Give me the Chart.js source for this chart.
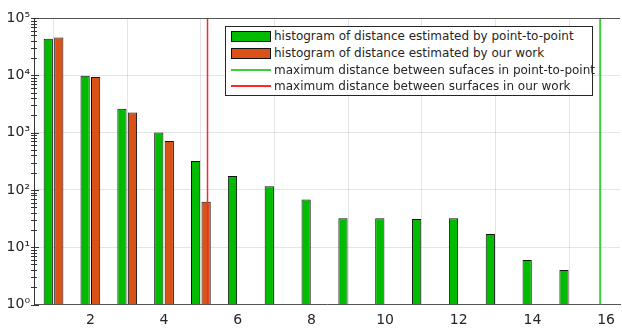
<!DOCTYPE html>
<html><head><meta charset="utf-8">
<script src="https://cdn.jsdelivr.net/npm/chart.js@4/dist/chart.umd.min.js"></script>
<style>
html,body{margin:0;padding:0;background:#fff;}
#wrap{position:relative;width:622px;height:329px;overflow:hidden;}
#legend{position:absolute;left:225px;top:26px;width:368px;height:70px;border:1px solid #262626;background:#fff;font-family:"DejaVu Sans";font-size:12px;color:#262626;box-sizing:border-box;}
.row{position:absolute;left:0;height:16.7px;display:flex;align-items:center;white-space:nowrap;}
.sw{width:40px;height:11px;margin-left:5px;margin-right:3px;box-sizing:border-box;position:relative;}
</style></head>
<body><div id="wrap"><canvas id="c"></canvas><div id="legend"></div></div>
<script>
const categories = [1,2,3,4,5,6,7,8,9,10,11,12,13,14,15];
const pointToPoint = [43500, 9820, 2600, 1000, 320, 174, 116, 68, 32, 32, 31, 32, 17, 6, 4];
const ourWork = [45800, 9320, 2240, 710, 62];
const maxDistPointToPoint = 15.84;
const maxDistOurWork = 5.18;
const xTicks = [2,4,6,8,10,12,14,16];
const yTicks = [1,10,100,1000,10000,100000];
const labels = [
  'histogram of distance estimated by point-to-point',
  'histogram of distance estimated by our work',
  'maximum distance between sufaces in point-to-point',
  'maximum distance between surfaces in our work'
];
const colors = ['rgb(0,187,0)', '#d95319', 'rgb(60,205,60)', 'rgb(255,40,40)'];
const sup = ['\u2070','\u00b9','\u00b2','\u00b3','\u2074','\u2075'];

const yMin = yTicks[0], yMax = yTicks[yTicks.length-1];

const decor = {
  id: 'decor',
  afterDraw(chart) {
    const ctx = chart.ctx, a = chart.chartArea, y = chart.scales.y;
    ctx.save();
    ctx.strokeStyle = '#555';
    ctx.lineWidth = 1;
    ctx.beginPath();
    ctx.moveTo(a.left, a.top + 0.5); ctx.lineTo(a.right, a.top + 0.5);
    ctx.stroke();
    ctx.strokeStyle = '#333';
    ctx.beginPath();
    for (let k = 0; k < yTicks.length - 1; k++) {
      for (let m = 2; m <= 9; m++) {
        const py = Math.round(y.getPixelForValue(yTicks[k] * m)) + 0.5;
        ctx.moveTo(a.left - 3, py); ctx.lineTo(a.left + 3, py);
      }
    }
    for (let k = 0; k < yTicks.length; k++) {
      const py = Math.round(y.getPixelForValue(yTicks[k])) + 0.5;
      ctx.moveTo(a.left - 3, py); ctx.lineTo(a.left + 5, py);
    }
    ctx.stroke();
    ctx.restore();
  }
};

const vline = (x) => [{x: x, y: yMin}, {x: x, y: yMax}];

new Chart(document.getElementById('c'), {
  type: 'bar',
  data: {
    datasets: [
      {label: labels[0], data: categories.map((c,i)=>({x:c, y:pointToPoint[i]})),
       backgroundColor: colors[0], borderColor: '#111', borderWidth: 1, borderSkipped: 'start',
       categoryPercentage: 0.57, barPercentage: 0.88, order: 2},
      {label: labels[1], data: ourWork.map((v,i)=>({x:categories[i], y:v})),
       backgroundColor: colors[1], borderColor: '#111', borderWidth: 1, borderSkipped: 'start',
       categoryPercentage: 0.57, barPercentage: 0.88, order: 2},
      {type: 'line', label: labels[2], data: vline(maxDistPointToPoint), borderColor: colors[2],
       borderWidth: 2, pointRadius: 0, order: 1},
      {type: 'line', label: labels[3], data: vline(maxDistOurWork), borderColor: colors[3],
       borderWidth: 1.5, pointRadius: 0, order: 1}
    ]
  },
  options: {
    responsive: true, maintainAspectRatio: false, animation: false,
    layout: {padding: {top: 18, right: 0, left: 0, bottom: 0}},
    plugins: {legend: {display: false}, tooltip: {enabled: false}},
    scales: {
      x: {
        type: 'linear', min: 0.47, max: 16.38, offset: false,
        afterBuildTicks: s => { s.ticks = xTicks.map(v => ({value: v})); },
        afterFit: s => { s.height = 24.5; },
        grid: {color: 'rgba(38,38,38,0.12)', drawTicks: false},
        border: {color: '#555', width: 1},
        ticks: {font: {family: 'DejaVu Sans', size: 14}, color: '#262626', padding: 7, maxRotation: 0,
                callback: v => String(v)}
      },
      y: {
        type: 'logarithmic', min: yMin, max: yMax, z: 1,
        afterBuildTicks: s => { s.ticks = yTicks.map(v => ({value: v})); },
        afterFit: s => { s.width = 34; },
        grid: {color: 'rgba(38,38,38,0.12)', drawTicks: false},
        border: {color: '#333', width: 1},
        ticks: {font: {family: 'DejaVu Sans', size: 14}, color: '#262626', padding: 4,
                callback: v => '10' + sup[Math.round(Math.log10(v))]}
      }
    }
  },
  plugins: [decor]
});

const lg = document.getElementById('legend');
labels.forEach((t, i) => {
  const row = document.createElement('div');
  row.className = 'row';
  row.style.top = (1 + i * 16.7) + 'px';
  const sw = document.createElement('div');
  sw.className = 'sw';
  if (i < 2) {
    sw.style.background = colors[i];
    sw.style.border = '1px solid #111';
  } else {
    const ln = document.createElement('div');
    ln.style.cssText = 'position:absolute;left:0;right:0;top:4.5px;height:2px;background:' + colors[i];
    sw.appendChild(ln);
  }
  const tx = document.createElement('span');
  tx.textContent = t;
  row.appendChild(sw); row.appendChild(tx);
  lg.appendChild(row);
});
</script>
</body></html>
